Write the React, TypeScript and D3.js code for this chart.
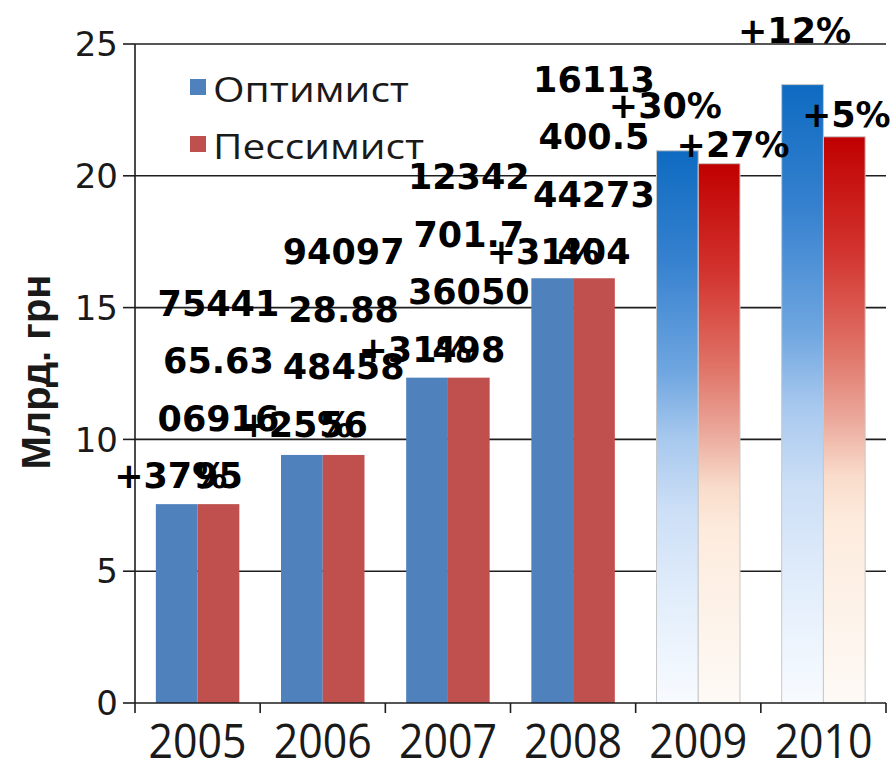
import React from "react";
import * as d3 from "d3";

const years = ["2005", "2006", "2007", "2008", "2009", "2010"];
const optimist = [7.544, 9.41, 12.342, 16.113, 20.95, 23.46];
const pessimist = [7.544, 9.41, 12.342, 16.113, 20.46, 21.48];
const optLabels = ["+37%", "+25%", "+31%", "+31%", "+30%", "+12%"];
const pesLabels = [
  ["75441", "65.63", "06916", "95"],
  ["94097", "28.88", "48458", "56"],
  ["12342", "701.7", "36050", "498"],
  ["16113", "400.5", "44273", "404"],
  ["+27%"],
  ["+5%"],
];
const yTicks = [0, 5, 10, 15, 20, 25];
const seriesNames = ["Оптимист", "Пессимист"];
const yTitle = "Млрд. грн";

// label placement offsets (dx from bar center, dy above bar top)
const optOffsets = [[-6, 16], [-6, 18], [-12, 16], [-9, 14], [-12, 33], [-8, 42]];
const pesOffsets = [[0, 16], [0, 18], [0, 16], [0, 14], [14, 7], [2, 10]];

const W = 891, H = 765;
const L = 135, R = 886, T = 44, B = 703;

export default function App() {
  const x = d3.scaleBand<string>().domain(years).range([L, R]).paddingInner(0.333).paddingOuter(0.1665);
  const sub = d3.scaleBand<string>().domain(["o", "p"]).range([0, x.bandwidth()]);
  const y = d3.scaleLinear().domain([0, 25]).range([B, T]);
  const step = x.step();
  const boundaries = d3.range(years.length + 1).map((i) => L + i * step);
  const lineH = 57.5;
  const labelFont = "'DejaVu Sans', sans-serif";

  return (
    <svg width={W} height={H} style={{ position: "absolute", left: 0, top: 0, background: "#fff" }}>
      <defs>
        <linearGradient id="gb" x1="0" y1="0" x2="0" y2="1">
          <stop offset="0" stopColor="#0E6BC1" />
          <stop offset="0.2" stopColor="#3681CF" />
          <stop offset="0.4" stopColor="#6FA6E0" />
          <stop offset="0.52" stopColor="#A7C8EE" />
          <stop offset="0.65" stopColor="#CCDFF6" />
          <stop offset="0.82" stopColor="#E3EEFB" />
          <stop offset="1" stopColor="#F8FBFF" />
        </linearGradient>
        <linearGradient id="gr" x1="0" y1="0" x2="0" y2="1">
          <stop offset="0" stopColor="#C00000" />
          <stop offset="0.2" stopColor="#D2332E" />
          <stop offset="0.38" stopColor="#E07468" />
          <stop offset="0.5" stopColor="#EBA99C" />
          <stop offset="0.6" stopColor="#F9DCCB" />
          <stop offset="0.68" stopColor="#FDEBDD" />
          <stop offset="0.85" stopColor="#FDF3EA" />
          <stop offset="1" stopColor="#FEFAF6" />
        </linearGradient>
      </defs>

      {/* gridlines */}
      {yTicks.filter((t) => t > 0).map((t) => (
        <line key={"g" + t} x1={L} x2={R} y1={y(t)} y2={y(t)} stroke="#1e1e1e" strokeWidth={1.6} />
      ))}

      {/* bars */}
      {years.map((yr, i) => {
        const x0 = x(yr)!;
        const grad = i >= 4;
        return (
          <g key={yr}>
            <rect x={x0 + sub("o")!} y={y(optimist[i])} width={sub.bandwidth()} height={B - y(optimist[i])}
              fill={grad ? "url(#gb)" : "#4F81BD"} stroke={grad ? "#C8C8C8" : "none"} strokeWidth={1} />
            <rect x={x0 + sub("p")!} y={y(pessimist[i])} width={sub.bandwidth()} height={B - y(pessimist[i])}
              fill={grad ? "url(#gr)" : "#C0504D"} stroke={grad ? "#C8C8C8" : "none"} strokeWidth={1} />
          </g>
        );
      })}

      {/* axes */}
      <line x1={L} x2={L} y1={T} y2={B} stroke="#1e1e1e" strokeWidth={1.6} />
      <line x1={L} x2={R} y1={B} y2={B} stroke="#1e1e1e" strokeWidth={1.6} />
      {yTicks.map((t) => (
        <line key={"yt" + t} x1={L - 12} x2={L} y1={y(t)} y2={y(t)} stroke="#1e1e1e" strokeWidth={1.6} />
      ))}
      {boundaries.map((bx, i) => (
        <line key={"xt" + i} x1={bx} x2={bx} y1={B} y2={B + 10} stroke="#1e1e1e" strokeWidth={1.6} />
      ))}

      {/* y tick labels */}
      {yTicks.map((t) => (
        <text key={"yl" + t} x={118} y={y(t)} dy="0.36em" textAnchor="end"
          fontFamily="'DejaVu Sans', sans-serif" fontSize={34} fill="#1a1a1a">{t}</text>
      ))}

      {/* x labels */}
      {years.map((yr) => (
        <text key={"xl" + yr} x={x(yr)! + x.bandwidth() / 2} y={758} textAnchor="middle"
          textLength={98} lengthAdjust="spacingAndGlyphs"
          fontFamily="'Open Sans', sans-serif" fontSize={47} fill="#1a1a1a">{yr}</text>
      ))}

      {/* y title */}
      <text transform={`translate(50, 372) rotate(-90)`} textAnchor="middle"
        fontFamily="'Liberation Sans', Arial, sans-serif" fontWeight="bold" fontSize={40} fill="#1a1a1a">{yTitle}</text>

      {/* legend */}
      <rect x={190} y={79} width={16} height={16} fill="#4F81BD" />
      <text x={213} y={102} textLength={196} lengthAdjust="spacingAndGlyphs"
        fontFamily="'Open Sans', sans-serif" fontSize={34} fill="#1a1a1a">{seriesNames[0]}</text>
      <rect x={190} y={136} width={16} height={16} fill="#C0504D" />
      <text x={213} y={159} textLength={211} lengthAdjust="spacingAndGlyphs"
        fontFamily="'Open Sans', sans-serif" fontSize={34} fill="#1a1a1a">{seriesNames[1]}</text>

      {/* data labels */}
      {years.map((yr, i) => {
        const x0 = x(yr)!;
        const cxO = x0 + sub("o")! + sub.bandwidth() / 2 + optOffsets[i][0];
        const cxP = x0 + sub("p")! + sub.bandwidth() / 2 + pesOffsets[i][0];
        const baseO = y(optimist[i]) - optOffsets[i][1];
        const baseP = y(pessimist[i]) - pesOffsets[i][1];
        const lines = pesLabels[i];
        return (
          <g key={"lb" + yr} fontFamily={labelFont} fontWeight="bold" fontSize={35} fill="#000" textAnchor="middle">
            <text x={cxO} y={baseO}>{optLabels[i]}</text>
            {lines.map((ln, j) => (
              <text key={j} x={cxP} y={baseP - (lines.length - 1 - j) * lineH}>{ln}</text>
            ))}
          </g>
        );
      })}
    </svg>
  );
}
